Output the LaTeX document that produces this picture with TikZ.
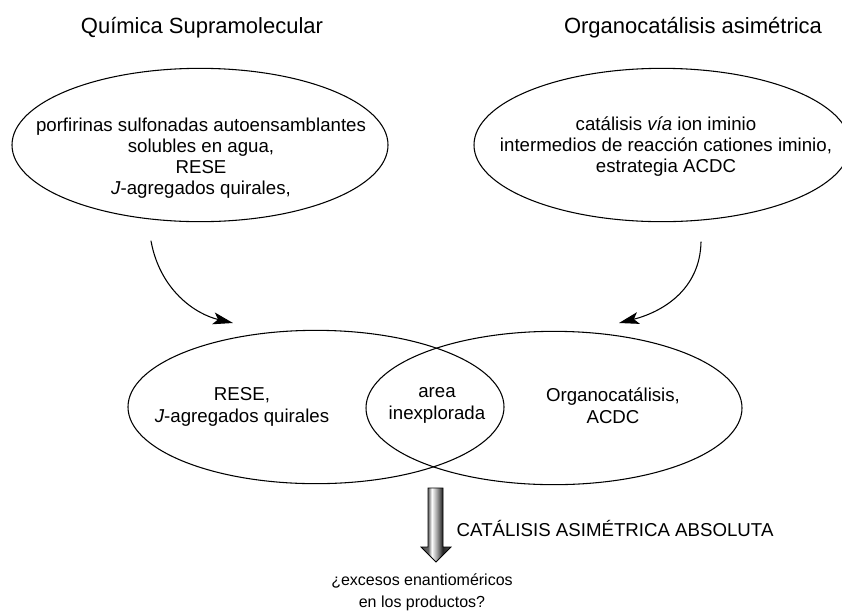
\documentclass[tikz,border=0pt]{standalone}
\usepackage{fontspec}
\setmainfont{Liberation Sans}
\usetikzlibrary{shapes.geometric,arrows.meta}

%shading for the thick arrow (central 25bp--75bp covers the path)
\pgfdeclarehorizontalshading{arrowshade}{100bp}{color(0bp)=(black!70); color(25bp)=(black!70); color(37bp)=(black!60); color(43bp)=(white); color(52bp)=(black!40); color(61bp)=(black!85); color(75bp)=(black!70); color(100bp)=(black!70)}

\begin{document}
\begin{tikzpicture}
		[x=0.75pt,y=-0.75pt,line cap=round,
		%Styles
		set/.style={draw,ellipse,minimum width=282pt,minimum height=115pt,inner sep=0pt,line width=0.8pt},
		set text/.style={align=center,font=\fontsize{14}{15.75}\selectfont},
		title text/.style={font=\fontsize{16.5}{19}\selectfont},
		note text/.style={align=center,font=\fontsize{12}{16.5}\selectfont},
		curved arrow/.style={line width=0.8pt,-{Stealth[length=15pt,width=9pt,inset=3.5pt]}},
		big arrow/.style={draw=black,line width=0.6pt,shading=arrowshade}
		]
		
		\useasboundingbox (0,0) rectangle (842,615);
		
		%Titles
		\node[title text] (tsupra) at (202,28) {Química Supramolecular};
		\node[title text] (torgano) at (693,28) {Organocatálisis asimétrica};
		
		%Top sets
		\node[set] (supra) at (200,145) {};
		\node[set] (organo) at (662,145) {};
		\node[set text] (supratext) at (201,158) {porfirinas sulfonadas autoensamblantes\\ solubles en agua,\\ RESE\\ \textit{J}-agregados quirales,};
		\node[set text] (organotext) at (666,147) {catálisis \textit{vía} ion iminio\\ intermedios de reacción cationes iminio,\\ estrategia ACDC};
		
		%Bottom sets
		\node[set] (rese) at (316,407) {};
		\node[set] (acdc) at (554,408) {};
		\node[set text,font=\fontsize{14}{16.5}\selectfont] (resetext) at (242,407) {RESE,\\ \textit{J}-agregados quirales};
		\node[set text,font=\fontsize{14}{16.5}\selectfont] (area) at (437,405) {area\\ inexplorada};
		\node[set text,font=\fontsize{14}{16.5}\selectfont] (acdctext) at (613,406) {Organocatálisis,\\ ACDC};
		
		%Curved arrows
		\coordinate (l1) at (151,241);
		\coordinate (l2) at (233,323);
		\coordinate (r1) at (701,242);
		\coordinate (r2) at (619,323);
		\draw[curved arrow] (l1) .. controls (160,290) and (195,314) .. (l2);
		\draw[curved arrow] (r1) .. controls (700,290) and (662,312) .. (r2);
		
		%Thick arrow
		\path[big arrow] (428,488) -- (443,488) -- (443,547) -- (451,547) -- (436,562) -- (421,547) -- (428,547) -- cycle;
		\node[set text,anchor=west] (absoluta) at (452,528) {CATÁLISIS ASIMÉTRICA ABSOLUTA};
		\node[note text] (excesos) at (422,592) {¿excesos enantioméricos\\ en los productos?};
	\end{tikzpicture}
\end{document}
